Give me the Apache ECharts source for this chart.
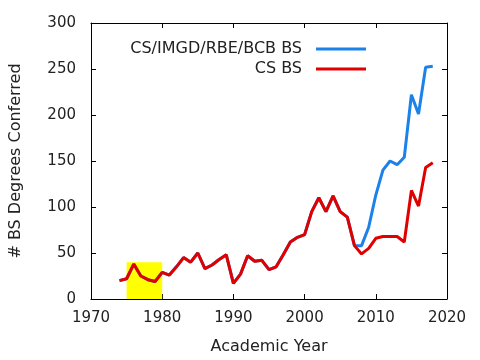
<!DOCTYPE html>
<html><head><meta charset="utf-8">
<script src="https://cdn.jsdelivr.net/npm/echarts@6/dist/echarts.min.js"></script>
<style>html,body{margin:0;padding:0;background:#fff}#c{width:480px;height:360px}</style>
</head><body><div id="c"></div>
<script>
const years = [1974,1975,1976,1977,1978,1979,1980,1981,1982,1983,1984,1985,1986,1987,1988,1989,1990,1991,1992,1993,1994,1995,1996,1997,1998,1999,2000,2001,2002,2003,2004,2005,2006,2007,2008,2009,2010,2011,2012,2013,2014,2015,2016,2017,2018];
const csBS = [20,22,38,25,21,19,29,26,35,45,40,50,33,37,43,48,17,27,47,41,42,32,35,48,62,67,70,95,110,95,112,95,89,58,49,55,66,68,68,68,62,118,101,143,148];
const allBS = [20,22,38,25,21,19,29,26,35,45,40,50,33,37,43,48,17,27,47,41,42,32,35,48,62,67,70,95,110,95,112,95,89,58,58,78,113,140,150,146,154,222,201,252,253];
const seriesNames = ['CS/IMGD/RBE/BCB BS','CS BS'];
const highlightYears = [1975,1980];
const highlightValues = [0,40];
const xLabel = 'Academic Year';
const yLabel = '# BS Degrees Conferred';

const font = 'DejaVu Sans';
const txt = '#222';
const chart = echarts.init(document.getElementById('c'), null, {renderer:'canvas'});
const pair = arr => years.map((y,i)=>[y,arr[i]]);
const axisCommon = {
  axisLine:{show:true,onZero:false,lineStyle:{color:'#000',width:1}},
  axisTick:{show:true,inside:true,length:5,lineStyle:{color:'#000'}},
  splitLine:{show:false}
};
const legendText = {fontFamily:font,fontSize:16,color:txt,padding:[0,9,0,0]};
chart.setOption({
  animation:false,
  grid:{left:90,right:33,top:23,bottom:61},
  legend:[
    {data:[seriesNames[0]],right:109,top:36,align:'right',icon:'rect',itemWidth:50,itemHeight:3,textStyle:legendText},
    {data:[seriesNames[1]],right:109,top:56,align:'right',icon:'rect',itemWidth:50,itemHeight:3,textStyle:legendText}
  ],
  xAxis:[
    Object.assign({type:'value',min:1970,max:2020,interval:10,position:'bottom',
      name:xLabel,nameLocation:'middle',nameGap:40,
      nameTextStyle:{fontFamily:font,fontSize:16,color:txt},
      axisLabel:{fontFamily:font,fontSize:15,color:txt,margin:12,formatter:v=>String(v)}},axisCommon),
    Object.assign({type:'value',min:1970,max:2020,interval:10,position:'top',axisLabel:{show:false}},axisCommon)
  ],
  yAxis:[
    Object.assign({type:'value',min:0,max:300,interval:50,position:'left',
      name:yLabel,nameLocation:'middle',nameGap:67,
      nameTextStyle:{fontFamily:font,fontSize:16,color:txt},
      axisLabel:{fontFamily:font,fontSize:15,color:txt,margin:15}},axisCommon),
    Object.assign({type:'value',min:0,max:300,interval:50,position:'right',axisLabel:{show:false}},axisCommon)
  ],
  series:[
    {name:seriesNames[0],type:'line',data:pair(allBS),symbol:'none',z:2,
     lineStyle:{color:'#1a82e8',width:3},itemStyle:{color:'#1a82e8'},
     markArea:{silent:true,itemStyle:{color:'#ffff00',opacity:1},
       data:[[{coord:[highlightYears[0],highlightValues[0]]},{coord:[highlightYears[1],highlightValues[1]]}]]}},
    {name:seriesNames[1],type:'line',data:pair(csBS),symbol:'none',z:3,
     lineStyle:{color:'#e00000',width:3},itemStyle:{color:'#e00000'}}
  ]
});
</script></body></html>
